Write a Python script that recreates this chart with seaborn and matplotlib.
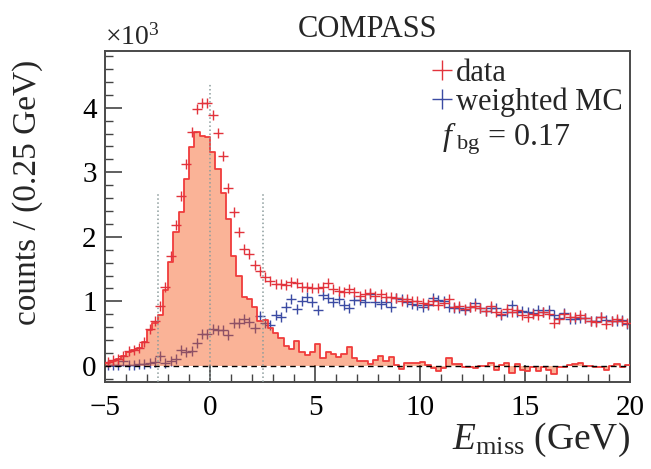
import numpy as np
import pandas as pd
import seaborn as sns
import matplotlib
matplotlib.use('Agg')
import matplotlib.pyplot as plt
from matplotlib.lines import Line2D
from matplotlib.ticker import MultipleLocator, FuncFormatter

# E_miss binning: 100 bins of 0.25 GeV from -5 to 20
x_lo, x_hi, bin_w = -5.0, 20.0, 0.25

# counts in units of 10^3
data_counts = [
    0.06, 0.09, 0.11, 0.15, 0.23, 0.25, 0.28, 0.37, 0.57, 0.70,
    0.93, 1.22, 1.70, 2.18, 2.63, 3.13, 3.63, 3.98, 4.07, 4.08,
    3.89, 3.61, 3.25, 2.75, 2.38, 2.07, 1.81, 1.73, 1.57, 1.47,
    1.38, 1.32, 1.27, 1.27, 1.25, 1.30, 1.28, 1.23, 1.23, 1.21,
    1.21, 1.22, 1.28, 1.19, 1.16, 1.15, 1.19, 1.14, 1.09, 1.11,
    1.13, 1.09, 1.11, 1.06, 1.06, 1.05, 1.00, 1.04, 1.01, 1.00,
    0.98, 0.96, 1.01, 0.95, 0.97, 1.04, 0.92, 0.93, 0.88, 0.91,
    0.93, 0.89, 0.85, 0.93, 0.84, 0.81, 0.88, 0.83, 0.86, 0.79,
    0.76, 0.81, 0.79, 0.83, 0.81, 0.66, 0.73, 0.81, 0.75, 0.76,
    0.79, 0.74, 0.70, 0.68, 0.75, 0.65, 0.69, 0.72, 0.70, 0.67,
]

mc_counts = [
    0.01, 0.01, 0.02, 0.08, 0.01, 0.01, 0.03, 0.03, 0.04, 0.06,
    0.15, 0.05, 0.08, 0.11, 0.24, 0.22, 0.23, 0.35, 0.49, 0.50,
    0.57, 0.56, 0.55, 0.48, 0.66, 0.66, 0.72, 0.68, 0.59, 0.77,
    0.66, 0.64, 0.79, 0.75, 0.91, 1.03, 0.88, 1.01, 1.07, 0.99,
    0.86, 1.10, 1.05, 0.99, 1.03, 0.95, 0.89, 1.02, 1.02, 0.99,
    1.11, 0.99, 0.96, 0.99, 0.92, 1.05, 1.04, 0.99, 0.96, 0.95,
    0.92, 0.94, 1.05, 1.02, 1.00, 0.92, 0.89, 0.90, 0.87, 0.92,
    0.97, 0.89, 0.85, 0.89, 0.90, 0.79, 0.84, 0.94, 0.83, 0.85,
    0.84, 0.82, 0.87, 0.84, 0.87, 0.79, 0.74, 0.82, 0.73, 0.73,
    0.74, 0.74, 0.70, 0.69, 0.76, 0.71, 0.69, 0.69, 0.71, 0.65,
]

signal_counts = [
    0.05, 0.08, 0.10, 0.15, 0.22, 0.25, 0.28, 0.37, 0.56, 0.66,
    0.79, 1.18, 1.61, 2.07, 2.39, 2.90, 3.39, 3.63, 3.57, 3.55,
    3.32, 3.05, 2.68, 2.27, 1.71, 1.40, 1.07, 1.03, 0.92, 0.70,
    0.71, 0.58, 0.51, 0.43, 0.31, 0.26, 0.39, 0.22, 0.17, 0.22,
    0.34, 0.12, 0.22, 0.19, 0.14, 0.19, 0.30, 0.12, 0.07, 0.08,
    0.03, 0.09, 0.15, 0.07, 0.14, 0.01, -0.05, 0.04, 0.04, 0.04,
    0.06, 0.02, -0.04, -0.08, -0.03, 0.12, 0.03, 0.03, -0.01, -0.01,
    -0.04, 0.00, 0.00, 0.04, -0.06, 0.02, 0.04, -0.11, 0.03, -0.06,
    -0.08, -0.01, -0.08, -0.01, -0.06, -0.13, -0.01, -0.01, 0.02, 0.03,
    0.05, 0.00, 0.00, -0.01, -0.01, -0.06, 0.00, 0.03, -0.01, 0.02,
]

# exclusivity window markers
window_lines = [-2.5, 0.0, 2.5]
window_tops = [2.68, 4.37, 2.68]

red = '#e2333c'
blue = '#3b4ba3'
fill_col = '#f4581a'
line_col = '#f03c3c'

sns.set_theme(style='ticks')
plt.rcParams['font.family'] = ['Liberation Serif', 'DejaVu Serif']
plt.rcParams['mathtext.fontset'] = 'custom'
plt.rcParams['mathtext.rm'] = 'Liberation Serif'
plt.rcParams['mathtext.it'] = 'Liberation Serif:italic'

n_bins = len(data_counts)
centers = x_lo + bin_w * (np.arange(n_bins) + 0.5)
df = pd.DataFrame({'emiss': centers, 'data': data_counts,
                   'mc': mc_counts, 'signal': signal_counts})

fig = plt.figure(figsize=(6.51, 4.69), dpi=100)
ax = fig.add_axes([0.1613, 0.1855, 0.8065, 0.7058])

sns.scatterplot(data=df, x='emiss', y='mc', marker='+', s=50, color=blue,
                linewidth=1.0, ax=ax, zorder=2, legend=False)
sns.histplot(data=df, x='emiss', weights='signal', binwidth=bin_w,
             binrange=(x_lo, x_hi), element='step', fill=True, color=fill_col,
             alpha=0.45, linewidth=0, ax=ax, zorder=3)
sns.histplot(data=df, x='emiss', weights='signal', binwidth=bin_w,
             binrange=(x_lo, x_hi), element='step', fill=False, color=line_col,
             linewidth=1.3, ax=ax, zorder=4)
sns.scatterplot(data=df, x='emiss', y='data', marker='+', s=50, color=red,
                linewidth=1.0, ax=ax, zorder=5, legend=False)

ymin, ymax = -0.25, 4.88
ax.axhline(0, color='black', ls=(0, (4, 3)), lw=1.0, zorder=6)
for xv, top in zip(window_lines, window_tops):
    ax.plot([xv, xv], [ymin, top], color='#8c9c9c', ls=':', lw=1.1, zorder=6)

ax.set_xlim(x_lo, x_hi)
ax.set_ylim(ymin, ymax)
ax.xaxis.set_major_locator(MultipleLocator(5))
ax.xaxis.set_minor_locator(MultipleLocator(1))
ax.yaxis.set_major_locator(MultipleLocator(1))
ax.yaxis.set_minor_locator(MultipleLocator(0.2))
ax.tick_params(which='both', direction='in', colors='#444444', labelcolor='black',
               labelsize=21, top=False, right=False)
ax.tick_params(which='major', length=12, width=1.2, pad=6)
ax.tick_params(which='minor', length=6, width=1.0)
ax.tick_params(axis='x', pad=9)
for sp in ax.spines.values():
    sp.set_color('#4a4a4a')
    sp.set_linewidth(1.4)
ax.xaxis.set_major_formatter(FuncFormatter(lambda v, p: f'{v:.0f}'.replace('-', '\u2212')))

ax.set_xlabel(r'$E_{\mathrm{miss}}$ (GeV)', fontsize=27, loc='right', labelpad=0)
ax.set_ylabel('counts / (0.25 GeV)', fontsize=24)
ax.yaxis.set_label_coords(-0.118, 0.574)

fig.text(0.161, 0.893, r'$\times10^{3}$', fontsize=20, ha='left', va='bottom')
fig.text(0.565, 0.937, 'COMPASS', fontsize=22, ha='center', va='center')

handles = [Line2D([], [], marker='+', ls='none', color=red, ms=14, mew=1.0),
           Line2D([], [], marker='+', ls='none', color=blue, ms=14, mew=1.0)]
ax.legend(handles, ['data', 'weighted MC'], loc='upper right', frameon=False,
          fontsize=22, handlelength=0.7, handletextpad=0.1, labelspacing=0.0,
          borderaxespad=0.05, borderpad=0.2)
ax.text(0.765, 0.68, r'$f_{\ \mathrm{bg}}$ = 0.17', transform=ax.transAxes,
        fontsize=23, ha='center', va='bottom')

fig.savefig('out.png', dpi=100)
